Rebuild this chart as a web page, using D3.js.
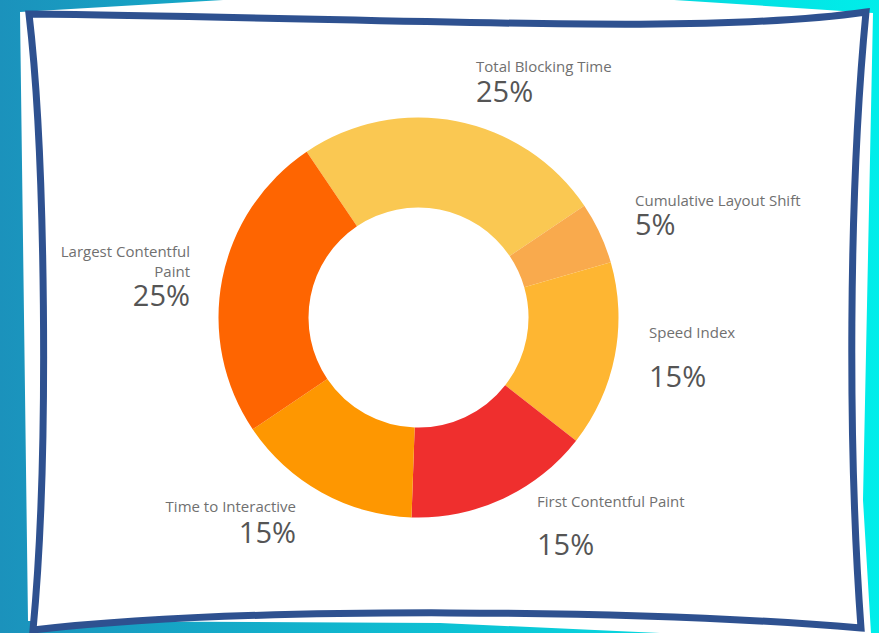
<!DOCTYPE html>
<html>
<head>
<meta charset="utf-8">
<script src="https://cdn.jsdelivr.net/npm/d3@7"></script>
<style>
  body { margin: 0; background: #fff; }
  svg { display: block; }
</style>
</head>
<body>
<svg id="container" width="879" height="633"></svg>
<script>
let width = 879,
    height = 633;

// chart data
let metrics = ["Total Blocking Time", "Cumulative Layout Shift", "Speed Index",
               "First Contentful Paint", "Time to Interactive", "Largest Contentful Paint"]
let weights = [25, 5, 15, 15, 15, 25]
let sliceColors = ["#fac852", "#f9aa4d", "#feb632", "#ef2f2e", "#fe9701", "#fe6501"]

// where each label sits: [x, name baseline, percent baseline, anchor, name lines]
let labelLayout = [
    [476, 72, 102, "start", ["Total Blocking Time"]],
    [635, 206, 235, "start", ["Cumulative Layout Shift"]],
    [649, 338, 387, "start", ["Speed Index"]],
    [537, 507, 555, "start", ["First Contentful Paint"]],
    [296, 512, 543, "end", ["Time to Interactive"]],
    [190, 257, 306, "end", ["Largest Contentful", "Paint"]]
]

let svg = d3.select("#container")

// background
let defs = svg.append("defs")
let grad = defs.append("linearGradient")
    .attr("id", "bg")
    .attr("x1", 0).attr("x2", 1).attr("y1", 0).attr("y2", 0)
grad.append("stop").attr("offset", "0%").attr("stop-color", "#1b92bc")
grad.append("stop").attr("offset", "100%").attr("stop-color", "#00eeea")

svg.append("rect")
    .attr("width", width)
    .attr("height", height)
    .attr("fill", "url(#bg)")

// white paper behind the card
svg.append("path")
    .attr("d", "M20,12 L460,-14 L873,13 L863,500 L872,650 L660,633 L440,623 L28,621 Z")
    .attr("fill", "#fff")

// wavy card border
let p = d3.path()
p.moveTo(29, 14)
p.bezierCurveTo(400, 18, 700, 36, 866, 12)
p.bezierCurveTo(848, 200, 848, 450, 861, 628)
p.bezierCurveTo(650, 610, 250, 605, 33, 630)
p.bezierCurveTo(50, 450, 45, 150, 29, 14)
p.closePath()

svg.append("path")
    .attr("d", p.toString())
    .attr("fill", "#fff")
    .attr("stroke", "#2e5190")
    .attr("stroke-width", 7)
    .attr("stroke-linejoin", "miter")

// donut
let cx = 418.5,
    cy = 317.5,
    outerR = 200,
    innerR = 110;

let startA = -34 * Math.PI / 180

let pie = d3.pie()
    .sort(null)
    .value(d => d)
    .startAngle(startA)
    .endAngle(startA + 2 * Math.PI)

let arc = d3.arc()
    .innerRadius(innerR)
    .outerRadius(outerR)

let g = svg.append("g")
    .attr("transform", "translate(" + cx + "," + cy + ")")

g.selectAll("path.slice")
    .data(pie(weights))
    .enter()
    .append("path")
    .attr("class", "slice")
    .attr("d", arc)
    .attr("fill", (d, i) => sliceColors[i])

// labels
let labels = svg.append("g")
    .attr("font-family", "'Open Sans', 'Noto Sans', sans-serif")

labelLayout.forEach(function(l, i) {
    let name = labels.append("text")
        .attr("x", l[0])
        .attr("y", l[1])
        .attr("text-anchor", l[3])
        .attr("font-size", "15px")
        .attr("fill", "#707070")
    l[4].forEach(function(line, j) {
        name.append("tspan")
            .attr("x", l[0])
            .attr("dy", j == 0 ? 0 : 20)
            .text(line)
    })

    labels.append("text")
        .attr("x", l[0])
        .attr("y", l[2])
        .attr("text-anchor", l[3])
        .attr("font-size", "29px")
        .attr("fill", "#555")
        .text(weights[i] + "%")
})
</script>
</body>
</html>
